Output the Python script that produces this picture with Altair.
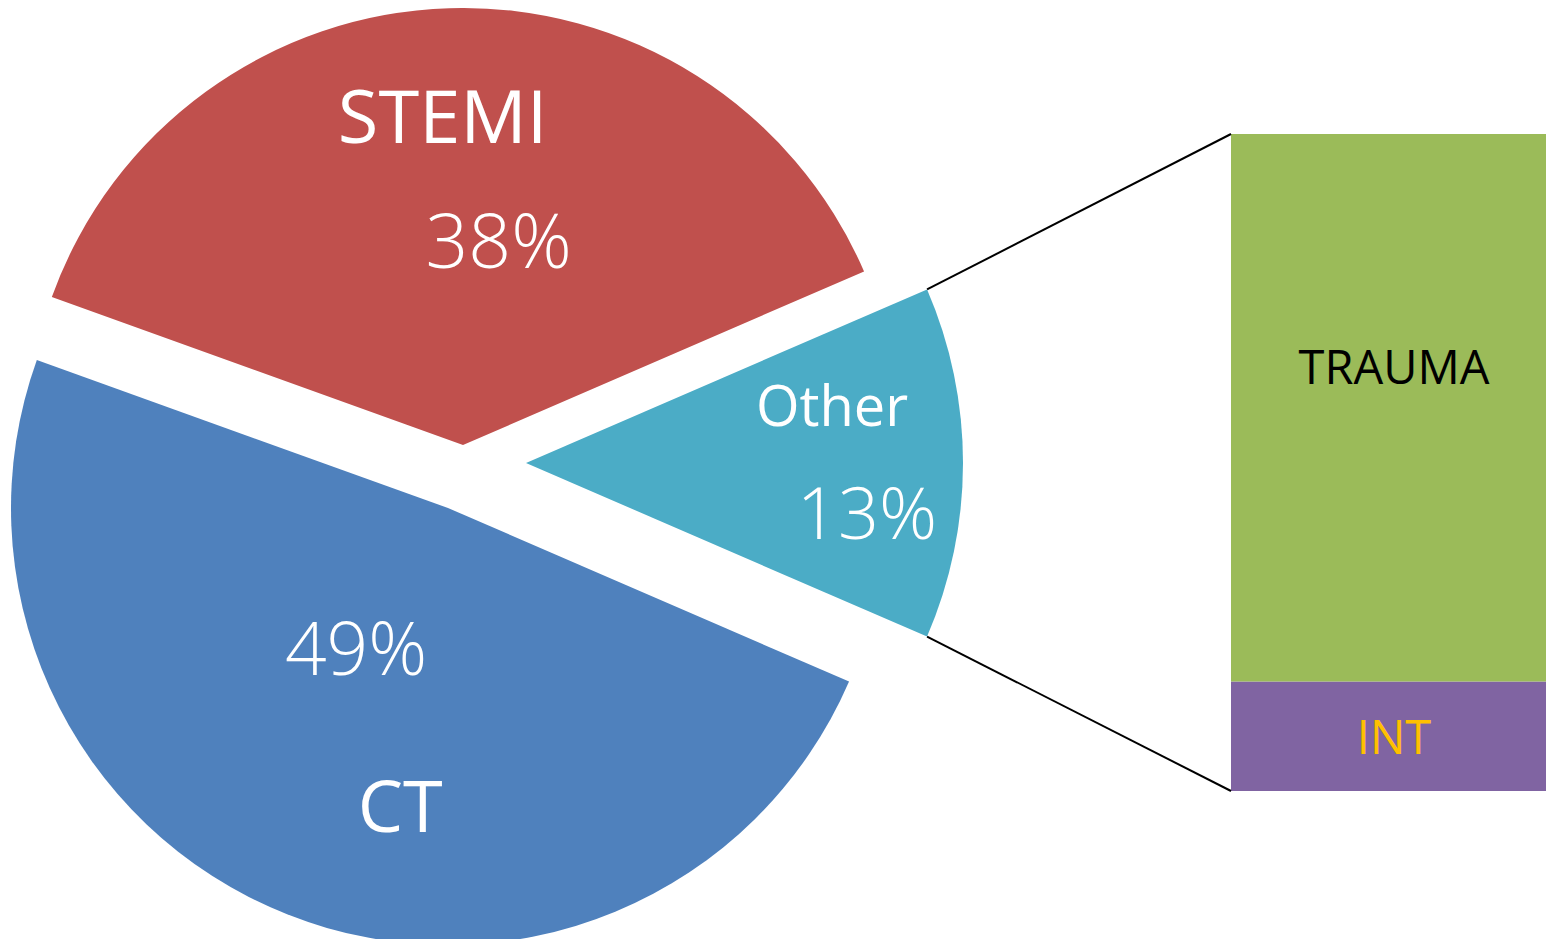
import math
import altair as alt
import pandas as pd

# ---------------- data ----------------
slice_names = ["Other", "CT", "STEMI"]
slice_shares = [13, 49, 38]
bar_names = ["INT", "TRAUMA"]
bar_counts = [1, 5]

# ---------------- styles / layout ----------------
slice_colors = ["#4BACC6", "#4F81BD", "#C0504D"]
bar_colors = ["#8064A2", "#9BBB59"]
bar_text_colors = ["#FFC000", "#000000"]
FONT = "Open Sans"

W, H = 1538, 931
R = 437
# exploded slice origins (pixels)
slice_origin = {"Other": (518, 455), "CT": (440, 500), "STEMI": (455, 437)}
# label placement: radius from slice origin plus small offsets
label_layout = {
    ("STEMI", "name"): dict(r=328, dx=-10, dy=4, size=74, weight=400),
    ("STEMI", "pct"): dict(r=204, dx=42, dy=4, size=75, weight=300),
    ("Other", "name"): dict(r=306, dx=0, dy=-54, size=56, weight=400),
    ("Other", "pct"): dict(r=341, dx=0, dy=54, size=72, weight=300),
    ("CT", "pct"): dict(r=152, dx=-36, dy=4, size=73, weight=300),
    ("CT", "name"): dict(r=320, dx=70, dy=4, size=72, weight=400),
}
bar_x0, bar_x1 = 1223, 1538
bar_top, bar_bottom = 126, 783
bar_label_x = 1386
bar_label_dy = {"TRAUMA": -38, "INT": 4}

# ---------------- tables ----------------
total = sum(slice_shares)
starts, acc = [], 0
for s in slice_shares:
    starts.append(acc)
    acc += s
pie_df = pd.DataFrame({
    "name": slice_names,
    "share": slice_shares,
    "start": starts,
    "end": [a + s for a, s in zip(starts, slice_shares)],
    "mid": [a + s / 2 for a, s in zip(starts, slice_shares)],
    "pct": [f"{s}%" for s in slice_shares],
    "color": slice_colors,
})

# the "Other" slice is centred on the right (3 o'clock), as in a pie-of-bar chart
other_share = slice_shares[slice_names.index("Other")]
a0 = math.pi / 2 - math.pi * other_share / total
theta_scale = alt.Scale(domain=[0, total], range=[a0, a0 + 2 * math.pi])

bar_total = sum(bar_counts)
b0, acc = [], 0
for c in bar_counts:
    b0.append(acc)
    acc += c
bar_df = pd.DataFrame({
    "name": bar_names,
    "count": bar_counts,
    "y0": b0,
    "y1": [a + c for a, c in zip(b0, bar_counts)],
    "mid": [a + c / 2 for a, c in zip(b0, bar_counts)],
    "color": bar_colors,
    "tcolor": bar_text_colors,
})
y_scale = alt.Scale(domain=[0, bar_total], range=[bar_bottom, bar_top])

layers = []

# pie slices
for n in slice_names:
    cx, cy = slice_origin[n]
    layers.append(
        alt.Chart(pie_df)
        .transform_filter(alt.datum.name == n)
        .mark_arc(strokeWidth=0)
        .encode(
            x=alt.value(cx),
            y=alt.value(cy),
            radius=alt.value(R),
            theta=alt.Theta("start:Q", scale=theta_scale, stack=False),
            theta2=alt.Theta2("end:Q"),
            color=alt.Color("color:N", scale=None),
        )
    )

# pie labels
for (n, kind), lay in label_layout.items():
    cx, cy = slice_origin[n]
    layers.append(
        alt.Chart(pie_df)
        .transform_filter(alt.datum.name == n)
        .mark_text(
            font=FONT,
            fontSize=lay["size"],
            fontWeight=lay["weight"],
            color="white",
            align="center",
            baseline="middle",
            dx=lay["dx"],
            dy=lay["dy"],
        )
        .encode(
            x=alt.value(cx),
            y=alt.value(cy),
            theta=alt.Theta("mid:Q", scale=theta_scale, stack=False),
            radius=alt.value(lay["r"]),
            text=alt.Text("name:N" if kind == "name" else "pct:N"),
        )
    )

# bar of the "Other" breakdown
layers.append(
    alt.Chart(bar_df)
    .mark_rect(strokeWidth=0)
    .encode(
        x=alt.value(bar_x0),
        x2=alt.value(bar_x1),
        y=alt.Y("y0:Q", scale=y_scale, axis=None),
        y2=alt.Y2("y1:Q"),
        color=alt.Color("color:N", scale=None),
    )
)
for n in bar_names:
    layers.append(
        alt.Chart(bar_df)
        .transform_filter(alt.datum.name == n)
        .mark_text(font=FONT, fontSize=47, align="center", baseline="middle",
                   dy=bar_label_dy[n])
        .encode(
            x=alt.value(bar_label_x),
            y=alt.Y("mid:Q", scale=y_scale, axis=None),
            text="name:N",
            color=alt.Color("tcolor:N", scale=None),
        )
    )

# connector lines from the edges of the "Other" slice to the bar corners
ox, oy = slice_origin["Other"]
a1 = a0 + 2 * math.pi * other_share / total
ends = [(a0, bar_top), (a1, bar_bottom)]
for ang, by in ends:
    sx = ox + R * math.sin(ang)
    sy = oy - R * math.cos(ang)
    layers.append(
        alt.Chart(pd.DataFrame({"edge": [by]}))
        .mark_rule(color="black", strokeWidth=2)
        .encode(x=alt.value(sx), y=alt.value(sy), x2=alt.value(bar_x0), y2=alt.value(by))
    )

chart = (
    alt.layer(*layers)
    .properties(width=W, height=H, padding=0, autosize=alt.AutoSizeParams(type="none"))
    .configure_view(stroke=None)
)

chart.save("out.html", embed_options={"renderer": "svg", "actions": False})
